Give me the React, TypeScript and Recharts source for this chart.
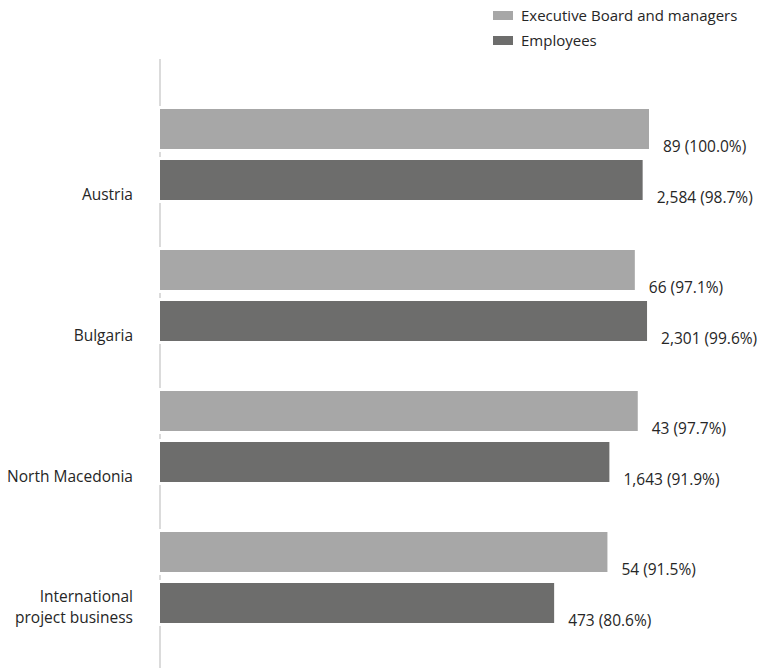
import React from "react";
import { BarChart, Bar, XAxis, YAxis, LabelList, Customized } from "recharts";

// Categories (multi-line labels split on "\n")
const regions = ["Austria", "Bulgaria", "North Macedonia", "International\nproject business"];

// Headcount and share per region
const managersCount = [89, 66, 43, 54];
const managersPct = [100.0, 97.1, 97.7, 91.5];
const employeesCount = [2584, 2301, 1643, 473];
const employeesPct = [98.7, 99.6, 91.9, 80.6];

const seriesNames = ["Executive Board and managers", "Employees"];

const W = 761;
const H = 668;
const MARGIN = { top: 84, right: 112, bottom: 20, left: 0 };
const AXIS_W = 160;

const LIGHT = "#a7a7a7";
const DARK = "#6d6d6c";
const TEXT = "#262626";
const FONT = "'Open Sans', 'Noto Sans', sans-serif";
const FS = 15.5;

const fmt = (n: number) => n.toLocaleString("en-US");

const data = regions.map((name, i) => ({
  name,
  managers: managersPct[i],
  employees: employeesPct[i],
  managersLabel: `${fmt(managersCount[i])} (${managersPct[i].toFixed(1)}%)`,
  employeesLabel: `${fmt(employeesCount[i])} (${employeesPct[i].toFixed(1)}%)`,
}));

const CategoryTick = (props: any) => {
  const { y, payload } = props;
  const lines = String(payload.value).split("\n");
  const x = AXIS_W - 27;
  const lastY = y + 39.5;
  return (
    <text textAnchor="end" fill={TEXT} fontSize={FS} fontFamily={FONT} dominantBaseline="central">
      {lines.map((ln, k) => (
        <tspan key={k} x={x} y={lastY - (lines.length - 1 - k) * 21}>
          {ln}
        </tspan>
      ))}
    </text>
  );
};

// Bar with a white halo so the axis line is interrupted around each bar
const HaloBar = (props: any) => {
  const { x, y, width, height, fill } = props;
  return (
    <g>
      <rect x={x - 3} y={y - 3} width={6} height={height + 6} fill="#ffffff" />
      <rect x={x} y={y} width={width} height={height} fill={fill} />
    </g>
  );
};

const ValueLabel = (props: any) => {
  const { x, y, width, height, value } = props;
  return (
    <text
      x={x + width + 14}
      y={y + height - 3}
      fill={TEXT}
      fontSize={FS}
      fontFamily={FONT}
      dominantBaseline="central"
    >
      {value}
    </text>
  );
};

const AxisLine = () => (
  <line x1={AXIS_W} x2={AXIS_W} y1={MARGIN.top - 25} y2={H} stroke="#cfcfcf" strokeWidth={1.5} />
);

const LegendBox = () => (
  <div
    style={{
      position: "absolute",
      top: 3,
      left: 493,
      fontFamily: FONT,
      fontSize: 15,
      color: TEXT,
      lineHeight: "25px",
    }}
  >
    {seriesNames.map((s, i) => (
      <div key={s} style={{ display: "flex", alignItems: "center", height: 25 }}>
        <span
          style={{
            display: "inline-block",
            width: 20,
            height: 9,
            background: i === 0 ? LIGHT : DARK,
            marginRight: 8,
          }}
        />
        <span>{s}</span>
      </div>
    ))}
  </div>
);

export default function App() {
  return (
    <div style={{ position: "absolute", left: 0, top: 0, width: W, height: H }}>
      <BarChart
        width={W}
        height={H}
        data={data}
        layout="vertical"
        margin={MARGIN}
        barSize={40}
        barGap={11}
        style={{ overflow: "visible" }}
      >
        <Customized component={AxisLine} />
        <XAxis type="number" domain={[0, 100]} hide />
        <YAxis
          type="category"
          dataKey="name"
          width={AXIS_W}
          axisLine={false}
          tickLine={false}
          tick={<CategoryTick />}
          interval={0}
        />
        <Bar dataKey="managers" fill={LIGHT} shape={<HaloBar />} isAnimationActive={false}>
          <LabelList dataKey="managersLabel" content={<ValueLabel />} />
        </Bar>
        <Bar dataKey="employees" fill={DARK} shape={<HaloBar />} isAnimationActive={false}>
          <LabelList dataKey="employeesLabel" content={<ValueLabel />} />
        </Bar>
      </BarChart>
      <LegendBox />
    </div>
  );
}
